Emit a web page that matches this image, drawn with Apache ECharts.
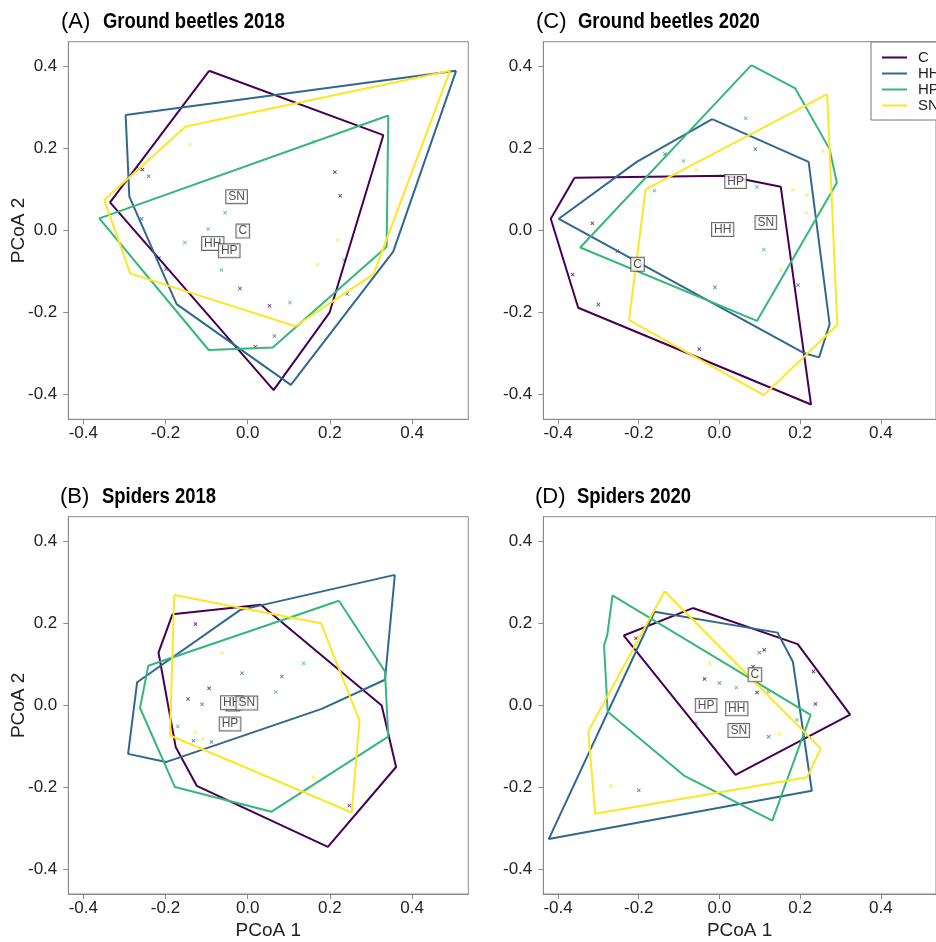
<!DOCTYPE html>
<html>
<head>
<meta charset="utf-8">
<script src="https://cdn.jsdelivr.net/npm/echarts@6/dist/echarts.min.js"></script>
<style>html,body{margin:0;padding:0;background:#fff;}#c{width:936px;height:942px;}</style>
</head>
<body>
<div id="c"></div>
<script>
// ---------- data ----------
const groups = ['C', 'HH', 'HP', 'SN'];
const colors = ['#440154', '#31688E', '#35B779', '#FDE725'];
const tickValues = [-0.4, -0.2, 0.0, 0.2, 0.4];
const xRange = [-0.4365, 0.5367];
const yRange = [-0.46, 0.461];

// (A) Ground beetles 2018
const gb18_hull_C  = [[-0.094,0.390],[0.330,0.233],[0.199,-0.200],[0.063,-0.389],[-0.335,0.069]];
const gb18_hull_HH = [[0.507,0.390],[0.354,-0.051],[0.105,-0.376],[-0.173,-0.179],[-0.288,0.083],[-0.297,0.282]];
const gb18_hull_HP = [[0.342,0.281],[0.338,-0.039],[0.061,-0.285],[-0.095,-0.291],[-0.361,0.030]];
const gb18_hull_SN = [[0.492,0.390],[0.306,-0.106],[0.116,-0.233],[-0.286,-0.104],[-0.349,0.075],[-0.151,0.254]];
const gb18_pts_C  = [[-0.256,0.149],[-0.265,0.151],[0.212,0.143],[0.225,0.085],[-0.019,-0.141],[0.053,-0.183],[0.019,-0.283],[-0.216,-0.067]];
const gb18_pts_HH = [[-0.241,0.133],[-0.258,0.029],[-0.199,-0.094],[0.242,-0.154],[0.065,-0.257]];
const gb18_pts_HP = [[-0.055,0.044],[-0.096,0.004],[-0.153,-0.029],[0.234,-0.072],[-0.064,-0.096],[0.103,-0.175],[0.160,0.217]];
const gb18_pts_SN = [[-0.140,0.210],[0.219,-0.023],[0.170,-0.083]];
const gb18_centroids = [['C',-0.012,-0.001],['HH',-0.085,-0.031],['HP',-0.045,-0.049],['SN',-0.027,0.083]];

// (C) Ground beetles 2020
const gb20_hull_C  = [[-0.359,0.129],[0.016,0.134],[0.152,0.107],[0.227,-0.424],[-0.350,-0.188],[-0.418,0.029]];
const gb20_hull_HH = [[-0.018,0.272],[0.221,0.168],[0.273,-0.228],[0.247,-0.309],[0.211,-0.299],[-0.398,0.029],[-0.205,0.168]];
const gb20_hull_HP = [[0.079,0.404],[0.188,0.347],[0.273,0.199],[0.291,0.117],[0.093,-0.220],[-0.345,-0.041]];
const gb20_hull_SN = [[0.267,0.333],[0.292,-0.230],[0.110,-0.401],[-0.224,-0.218],[-0.183,0.101]];
const gb20_pts_C  = [[-0.315,0.018],[-0.253,-0.050],[-0.364,-0.107],[-0.300,-0.180],[-0.050,-0.289]];
const gb20_pts_HH = [[0.089,0.199],[-0.135,0.187],[-0.011,-0.138],[0.195,-0.133]];
const gb20_pts_HP = [[0.065,0.274],[-0.089,0.170],[-0.161,0.098],[0.093,0.107],[0.110,-0.046]];
const gb20_pts_SN = [[-0.057,0.148],[0.256,0.194],[0.182,0.099],[0.217,0.087],[0.215,0.044],[0.152,-0.096]];
const gb20_centroids = [['C',-0.203,-0.082],['HH',0.008,0.003],['HP',0.040,0.120],['SN',0.115,0.020]];

// (B) Spiders 2018
const sp18_hull_C  = [[-0.183,0.223],[0.032,0.246],[0.326,0.000],[0.361,-0.150],[0.195,-0.345],[-0.124,-0.196],[-0.175,-0.102],[-0.217,0.129]];
const sp18_hull_HH = [[0.358,0.319],[0.334,0.063],[0.180,-0.008],[-0.199,-0.138],[-0.291,-0.118],[-0.269,0.057],[-0.019,0.233]];
const sp18_hull_HP = [[0.222,0.256],[0.334,0.083],[0.342,-0.076],[0.058,-0.259],[-0.177,-0.199],[-0.262,-0.006],[-0.242,0.097]];
const sp18_hull_SN = [[-0.179,0.270],[0.178,0.201],[0.272,-0.037],[0.253,-0.261],[-0.189,-0.073]];
const sp18_pts_C  = [[-0.127,0.199],[-0.094,0.042],[-0.145,0.016],[0.247,-0.244]];
const sp18_pts_HH = [[-0.014,0.079],[0.083,0.071],[-0.111,0.003],[-0.132,-0.086],[-0.088,-0.089]];
const sp18_pts_HP = [[0.136,0.103],[0.068,0.033],[-0.170,-0.051]];
const sp18_pts_SN = [[-0.063,0.129],[-0.127,-0.066],[-0.110,-0.082],[0.160,-0.175]];
const sp18_centroids = [['C',-0.036,0.004],['HH',-0.039,0.007],['HP',-0.043,-0.045],['SN',-0.002,0.006]];

// (D) Spiders 2020
const sp20_hull_C  = [[-0.066,0.238],[0.194,0.150],[0.324,-0.022],[0.040,-0.169],[-0.237,0.171]];
const sp20_hull_HH = [[-0.161,0.229],[0.144,0.178],[0.182,0.107],[0.229,-0.208],[-0.423,-0.326]];
const sp20_hull_HP = [[-0.265,0.269],[0.226,-0.023],[0.131,-0.281],[-0.088,-0.171],[-0.277,-0.015],[-0.286,0.146],[-0.278,0.172]];
const sp20_hull_SN = [[-0.136,0.279],[0.251,-0.105],[0.217,-0.175],[-0.308,-0.264],[-0.325,-0.063]];
const sp20_pts_C  = [[-0.207,0.164],[0.111,0.136],[0.233,0.083],[0.083,0.095],[-0.037,0.065],[0.093,0.032],[0.238,0.004]];
const sp20_pts_HH = [[0.099,0.129],[0.000,0.055],[0.122,-0.076],[-0.200,-0.207]];
const sp20_pts_HP = [[0.042,0.044],[0.121,0.034],[0.192,-0.035],[-0.058,-0.043]];
const sp20_pts_SN = [[-0.023,0.103],[0.149,-0.069],[-0.269,-0.196]];
const sp20_centroids = [['C',0.088,0.075],['HH',0.043,-0.008],['HP',-0.033,0.000],['SN',0.048,-0.061]];

const panelTitles = [['(A)','Ground beetles 2018'],['(C)','Ground beetles 2020'],['(B)','Spiders 2018'],['(D)','Spiders 2020']];
const xAxisTitle = 'PCoA 1';
const yAxisTitle = 'PCoA 2';

// ---------- assembly ----------
const FONT = "'Liberation Sans', Arial, Helvetica, sans-serif";
const panels = [
  {hulls:[gb18_hull_C,gb18_hull_HH,gb18_hull_HP,gb18_hull_SN], pts:[gb18_pts_C,gb18_pts_HH,gb18_pts_HP,gb18_pts_SN], cen:gb18_centroids},
  {hulls:[gb20_hull_C,gb20_hull_HH,gb20_hull_HP,gb20_hull_SN], pts:[gb20_pts_C,gb20_pts_HH,gb20_pts_HP,gb20_pts_SN], cen:gb20_centroids},
  {hulls:[sp18_hull_C,sp18_hull_HH,sp18_hull_HP,sp18_hull_SN], pts:[sp18_pts_C,sp18_pts_HH,sp18_pts_HP,sp18_pts_SN], cen:sp18_centroids},
  {hulls:[sp20_hull_C,sp20_hull_HH,sp20_hull_HP,sp20_hull_SN], pts:[sp20_pts_C,sp20_pts_HH,sp20_pts_HP,sp20_pts_SN], cen:sp20_centroids}
];
const gridPos = [
  {left:68.3, top:41.7, width:400, height:377.6},
  {left:543.3, top:41.7, width:400, height:377.6},
  {left:68.3, top:516.7, width:400, height:377.3},
  {left:543.3, top:516.7, width:400, height:377.3}
];
const titlePos = [[61,21.5],[536,21.5],[60,496.5],[535,496.5]];
const CROSS = 'path://M0,1.5L1.5,0L5,3.5L8.5,0L10,1.5L6.5,5L10,8.5L8.5,10L5,6.5L1.5,10L0,8.5L3.5,5Z';

const grids = [], xAxes = [], yAxes = [], series = [], graphics = [];
panels.forEach((p, i) => {
  grids.push(Object.assign({show:true, borderColor:'#8a8a8a', borderWidth:1, containLabel:false}, gridPos[i]));
  const axisCommon = {
    type:'value', gridIndex:i,
    axisLine:{show:true, onZero:false, lineStyle:{color:'#8a8a8a', width:1}},
    axisTick:{show:true, inside:false, length:5, customValues:tickValues, lineStyle:{color:'#8a8a8a'}},
    splitLine:{show:false},
    nameLocation:'middle',
    nameMoveOverlap:false,
    nameTextStyle:{fontSize:19, color:'#222', fontFamily:FONT}
  };
  xAxes.push(Object.assign({}, axisCommon, {
    min:xRange[0], max:xRange[1],
    axisLabel:{customValues:tickValues, formatter:v => v.toFixed(1), fontSize:17, margin:6, color:'#222', fontFamily:FONT},
    name: i >= 2 ? xAxisTitle : '', nameGap:27
  }));
  yAxes.push(Object.assign({}, axisCommon, {
    min:yRange[0], max:yRange[1],
    axisLabel:{customValues:tickValues, formatter:v => v.toFixed(1), fontSize:17, margin:11, color:'#222', fontFamily:FONT},
    name: i % 2 === 0 ? yAxisTitle : '', nameGap:40
  }));
  groups.forEach((g, k) => {
    series.push({
      type:'scatter', name:'pts-' + g, xAxisIndex:i, yAxisIndex:i,
      data:p.pts[k], symbol:CROSS, symbolSize:4, silent:true,
      itemStyle:{color:colors[k]}, z:2
    });
  });
  groups.forEach((g, k) => {
    const closed = p.hulls[k].concat([p.hulls[k][0]]);
    series.push({
      type:'line', name:g, xAxisIndex:i, yAxisIndex:i,
      data:closed, showSymbol:false, symbol:'none', silent:true,
      lineStyle:{color:colors[k], width:2}, itemStyle:{color:colors[k]}, z:3 + k * 0.01
    });
  });
  series.push({
    type:'scatter', name:'centroids', xAxisIndex:i, yAxisIndex:i, silent:true,
    symbol:'circle', symbolSize:0.1, itemStyle:{color:'rgba(0,0,0,0)'}, z:10,
    data:p.cen.map(c => ({name:c[0], value:[c[1], c[2]]})),
    label:{show:true, position:'inside', formatter:'{b}', fontSize:12, color:'#222', fontFamily:FONT,
      backgroundColor:'#fff', borderColor:'#444', borderWidth:1, padding:[1,2,0,2]}
  });
  graphics.push({
    type:'text', x:titlePos[i][0], y:titlePos[i][1], silent:true,
    style:{text:panelTitles[i][0], font:'normal 22px ' + FONT, fill:'#000', textVerticalAlign:'middle', verticalAlign:'middle'}
  });
  graphics.push({
    type:'text', x:titlePos[i][0] + 42, y:titlePos[i][1], scaleX:0.84, silent:true,
    style:{text:panelTitles[i][1], font:'bold 22px ' + FONT, fill:'#000', textVerticalAlign:'middle', verticalAlign:'middle'}
  });
});

const chart = echarts.init(document.getElementById('c'), null, {renderer:'canvas'});
chart.setOption({
  animation:false,
  backgroundColor:'#fff',
  graphic:graphics,
  grid:grids, xAxis:xAxes, yAxis:yAxes, series:series,
  legend:{
    data:groups, orient:'vertical', left:871, top:42,
    itemWidth:25, itemHeight:2, icon:'rect', itemGap:1, selectedMode:false,
    backgroundColor:'#fff', borderColor:'#777', borderWidth:1, borderRadius:0,
    padding:[8,40,7,11],
    textStyle:{fontSize:15, color:'#222', fontFamily:FONT, padding:[0,0,0,6]}
  }
});
</script>
</body>
</html>
